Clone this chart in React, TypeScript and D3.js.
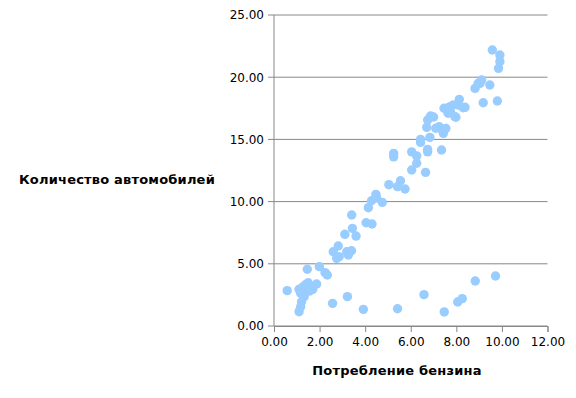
import React, { useEffect, useRef } from "react";
import * as d3 from "d3";

// fuel consumption (x) and number of cars (y)
const fuel = [
  0.58, 1.1, 1.29, 1.5, 1.4, 1.7, 1.87, 1.6, 1.17, 1.32, 1.21, 1.17, 1.1, 1.46, 1.99, 2.24, 2.34,
  2.57, 3.22, 3.92, 5.42, 6.58, 7.47, 8.06, 8.26, 8.83, 9.72, 2.82, 2.6, 2.75, 2.86, 3.19, 3.4,
  3.26, 3.41, 3.44, 3.11, 3.6, 4.04, 4.3, 4.14, 4.28, 4.47, 4.5, 4.75, 5.04, 5.55, 5.42, 5.75,
  6.04, 6.26, 6.65, 5.25, 5.25, 6.04, 6.26, 6.74, 6.74, 6.43, 6.43, 6.84, 7.35, 6.7, 6.74, 6.87,
  7.25, 7.43, 7.54, 7.4, 7.46, 7.64, 7.72, 7.94, 8.13, 8.08, 8.38, 7.87, 9.58, 9.91, 9.91, 9.85,
  9.11, 8.96, 8.82, 9.47, 9.18, 9.8, 9.04, 7.98, 1.27, 1.55, 7.1, 7.0, 7.75, 8.3
];
const cars = [
  2.84, 2.95, 3.16, 3.48, 3.35, 2.95, 3.38, 3.1, 2.63, 2.36, 1.95, 1.55, 1.15, 4.56, 4.77, 4.29, 4.1,
  1.82, 2.36, 1.34, 1.39, 2.52, 1.13, 1.93, 2.2, 3.62, 4.02, 6.43, 5.97, 5.44, 5.57, 5.97, 6.05,
  5.71, 8.92, 7.85, 7.37, 7.23, 8.3, 8.2, 9.51, 10.07, 10.58, 10.3, 9.94, 11.36, 11.68, 11.2, 11.01,
  12.54, 13.08, 12.35, 13.88, 13.6, 14.0, 13.67, 14.0, 14.2, 15.0, 14.76, 15.16, 14.15, 15.97, 16.56, 16.88,
  16.02, 15.49, 15.89, 15.7, 17.5, 17.1, 17.63, 16.83, 18.22, 17.77, 17.58, 17.77, 22.19, 21.78, 21.25, 20.71,
  19.77, 19.51, 19.1, 19.37, 17.95, 18.09, 19.5, 16.78, 2.9, 2.8, 15.9, 16.8, 17.2, 17.55
];
const xTicks = [0, 2, 4, 6, 8, 10, 12];
const yTicks = [0, 5, 10, 15, 20, 25];
const xTitle = "Потребление бензина";
const yTitle = "Количество автомобилей";

const W = 576;
const H = 398;
const margin = { top: 15, right: 28.5, bottom: 72, left: 274 };
const grid = "#888888";
const font = "'DejaVu Sans', sans-serif";

function App() {
  const svgRef = useRef<SVGSVGElement>(null);

  useEffect(() => {
    document.body.style.margin = "0";
    const svg = d3.select(svgRef.current);
    svg.selectAll("*").remove();

    const x = d3.scaleLinear().domain([0, 12]).range([margin.left, W - margin.right]);
    const y = d3.scaleLinear().domain([0, 25]).range([H - margin.bottom, margin.top]);

    // horizontal grid + y ticks
    svg.append("g")
      .selectAll("line")
      .data(yTicks)
      .join("line")
      .attr("x1", margin.left - 6)
      .attr("x2", W - margin.right)
      .attr("y1", d => y(d))
      .attr("y2", d => y(d))
      .attr("stroke", grid)
      .attr("stroke-width", 1);

    svg.append("g")
      .selectAll("text")
      .data(yTicks)
      .join("text")
      .attr("x", margin.left - 10)
      .attr("y", d => y(d))
      .attr("dy", "0.36em")
      .attr("text-anchor", "end")
      .style("font-family", font)
      .style("font-size", "12px")
      .attr("fill", "#000")
      .text(d => d.toFixed(2));

    // y axis line
    svg.append("line")
      .attr("x1", margin.left).attr("x2", margin.left)
      .attr("y1", y(25)).attr("y2", y(0))
      .attr("stroke", grid);

    // x axis
    const xAxis = d3.axisBottom(x)
      .tickValues(xTicks)
      .tickSize(6)
      .tickPadding(5)
      .tickFormat(d => (+d).toFixed(2));
    svg.append("g")
      .attr("transform", `translate(0, ${y(0)})`)
      .call(xAxis)
      .call(g => g.select(".domain").attr("stroke", grid))
      .call(g => g.selectAll(".tick line").attr("stroke", grid))
      .call(g => g.selectAll("text").style("font-family", font).style("font-size", "12px").attr("fill", "#000"));

    // points
    svg.append("g")
      .selectAll("circle")
      .data(fuel.map((f, i) => [f, cars[i]]))
      .join("circle")
      .attr("cx", d => x(d[0]))
      .attr("cy", d => y(d[1]))
      .attr("r", 4.7)
      .attr("fill", "#99ccff");

    // titles
    svg.append("text")
      .attr("x", 397)
      .attr("y", 375)
      .attr("text-anchor", "middle")
      .style("font-family", font)
      .style("font-size", "13px")
      .style("font-weight", "bold")
      .style("letter-spacing", "0.2px")
      .text(xTitle);

    svg.append("text")
      .attr("x", 117)
      .attr("y", 184)
      .attr("text-anchor", "middle")
      .style("font-family", font)
      .style("font-size", "13px")
      .style("font-weight", "bold")
      .style("letter-spacing", "0.2px")
      .text(yTitle);
  }, []);

  return <svg ref={svgRef} width={W} height={H} style={{ display: "block", background: "#fff" }} />;
}

export default App;
